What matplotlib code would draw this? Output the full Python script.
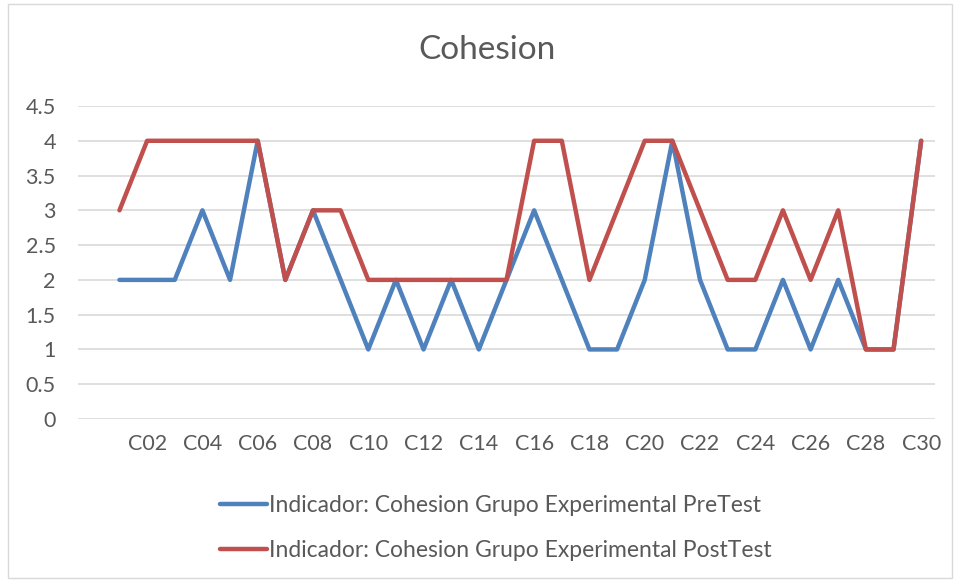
import matplotlib.pyplot as plt
from matplotlib.patches import Rectangle

# categories (first category is blank in the source sheet)
categories = [''] + ['C%02d' % i for i in range(1, 31)]
pretest = [2, 2, 2, 3, 2, 4, 2, 3, 2, 1, 2, 1, 2, 1, 2, 3, 2, 1, 1, 2,
           4, 2, 1, 1, 2, 1, 2, 1, 1, 4]
posttest = [3, 4, 4, 4, 4, 4, 2, 3, 3, 2, 2, 2, 2, 2, 2, 4, 4, 2, 3, 4,
            4, 3, 2, 2, 3, 2, 3, 1, 1, 4]
yticks = [0, 0.5, 1, 1.5, 2, 2.5, 3, 3.5, 4, 4.5]

plt.rcParams['font.family'] = ['Lato', 'DejaVu Sans']
txt = '#595959'

fig = plt.figure(figsize=(9.6, 5.82), dpi=100)
ax = fig.add_axes([78 / 960, 1 - 419 / 582, (935 - 78) / 960, (419 - 106) / 582])

x = list(range(1, len(categories)))
ax.plot(x, pretest, color='#4F81BD', lw=3.2, solid_joinstyle='round',
        solid_capstyle='round', label='Indicador: Cohesion Grupo Experimental PreTest')
ax.plot(x, posttest, color='#C0504D', lw=3.2, solid_joinstyle='round',
        solid_capstyle='round', label='Indicador: Cohesion Grupo Experimental PostTest')

ax.set_xlim(-0.5, len(categories) - 0.5)
ax.set_ylim(0, 4.5)
ax.set_yticks(yticks)
ax.set_yticklabels(['%g' % v for v in yticks])
ax.set_xticks(range(0, len(categories), 2))
ax.set_xticklabels(categories[::2])
ax.grid(axis='y', color='#D9D9D9', lw=1.2)
ax.set_axisbelow(True)
for s in ax.spines.values():
    s.set_visible(False)
ax.tick_params(length=0, labelsize=15.5, colors=txt, pad=11)
ax.tick_params(axis='y', pad=16)

fig.text(487 / 960, 1 - 50 / 582, 'Cohesion', ha='center', va='center',
         fontsize=24, color=txt)

leg = fig.legend(loc='upper left', bbox_to_anchor=(199 / 960, 1 - 474 / 582),
                 ncol=1, frameon=False, fontsize=16.5, handlelength=2.05,
                 handletextpad=0.1, labelspacing=1.05, labelcolor=txt)

fig.patches.append(Rectangle((8 / 960, 4 / 582), 944 / 960, 574 / 582,
                             transform=fig.transFigure, fill=False,
                             edgecolor='#D9D9D9', lw=1))

fig.savefig('out.png', dpi=100)
